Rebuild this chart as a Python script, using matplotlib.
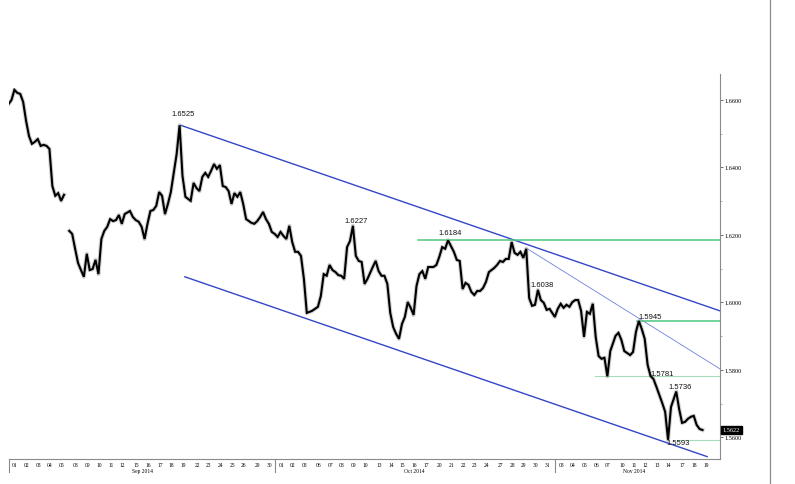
import datetime as dt
import numpy as np
import matplotlib.pyplot as plt
import matplotlib.transforms as mtransforms
from matplotlib.lines import Line2D

# ============================================================
# DATA - GBP/USD, Sep to Nov 2014
# ============================================================

sep_days = [1, 2, 3, 4, 5, 8, 9, 10, 11, 12, 15, 16, 17, 18, 19, 22, 23, 24, 25, 26, 29, 30]
oct_days = [1, 2, 3, 6, 7, 8, 9, 10, 13, 14, 15, 16, 17, 20, 21, 22, 23, 24, 27, 28, 29, 30, 31]
nov_days = [3, 4, 5, 6, 7, 10, 11, 12, 13, 14, 17, 18, 19]

# four readings per trading day (Nov 19 only has two)
sep_px = [1.6588, 1.6600, 1.6630, 1.6621,  1.6618, 1.6594, 1.6538, 1.6493,
          1.6470, 1.6476, 1.6484, 1.6464,  1.6467, 1.6464, 1.6455, 1.6345,
          1.6316, 1.6324, 1.6301, 1.6319,  1.6212, 1.6203, 1.6159, 1.6117,
          1.6096, 1.6076, 1.6144, 1.6096,  1.6099, 1.6126, 1.6084, 1.6188,
          1.6212, 1.6224, 1.6247, 1.6241,  1.6244, 1.6259, 1.6233, 1.6262,
          1.6271, 1.6253, 1.6244, 1.6239,  1.6224, 1.6188, 1.6233, 1.6271,
          1.6274, 1.6286, 1.6327, 1.6316,  1.6262, 1.6292, 1.6327, 1.6384,
          1.6440, 1.6525, 1.6375, 1.6313,  1.6301, 1.6354, 1.6339, 1.6330,
          1.6372, 1.6384, 1.6372, 1.6390,  1.6410, 1.6396, 1.6407, 1.6345,
          1.6342, 1.6330, 1.6292, 1.6324,  1.6313, 1.6327, 1.6292, 1.6247,
          1.6236, 1.6233, 1.6241, 1.6253,  1.6268, 1.6247, 1.6233, 1.6209]

oct_px = [1.6203, 1.6194, 1.6209, 1.6197,  1.6188, 1.6227, 1.6179, 1.6150,
          1.6150, 1.6138, 1.6070, 1.5969,  1.5975, 1.5981, 1.5987, 1.6019,
          1.6084, 1.6079, 1.6111, 1.6096,  1.6090, 1.6081, 1.6079, 1.6070,
          1.6164, 1.6182, 1.6227, 1.6138,  1.6123, 1.6120, 1.6055, 1.6070,
          1.6105, 1.6123, 1.6093, 1.6079,  1.6079, 1.6055, 1.5969, 1.5927,
          1.5907, 1.5892, 1.5936, 1.5957,  1.6001, 1.5984, 1.5963, 1.6049,
          1.6084, 1.6093, 1.6070, 1.6105,  1.6105, 1.6111, 1.6135, 1.6164,
          1.6159, 1.6184, 1.6167, 1.6150,  1.6126, 1.6123, 1.6040, 1.6058,
          1.6052, 1.6031, 1.6022, 1.6034,  1.6034, 1.6043, 1.6061, 1.6090,
          1.6102, 1.6111, 1.6123, 1.6120,  1.6129, 1.6129, 1.6179, 1.6147,
          1.6141, 1.6150, 1.6132, 1.6159,  1.6013, 1.5990, 1.5993, 1.6037,
          1.6007, 1.5999, 1.5978, 1.5981]

nov_px = [1.5957, 1.5981, 1.5996, 1.5984,  1.5993, 1.5987, 1.6001, 1.6007,
          1.6007, 1.5975, 1.5898, 1.5972,  1.5966, 1.5996, 1.5898, 1.5841,
          1.5833, 1.5836, 1.5781, 1.5856,  1.5901, 1.5910, 1.5889, 1.5856,
          1.5850, 1.5844, 1.5853, 1.5913,  1.5945, 1.5921, 1.5892, 1.5815,
          1.5782, 1.5773, 1.5750, 1.5726,  1.5702, 1.5676, 1.5593, 1.5690,
          1.5736, 1.5684, 1.5643, 1.5646,  1.5655, 1.5661, 1.5664, 1.5637,
          1.5625, 1.5622]

last_price = 1.5622

# channel / trend lines: start day, start price, end price (end = right edge)
upper_channel = ("2014-09-19", 1.6525, 1.5975)
inner_trend   = ("2014-10-29", 1.6159, 1.5803)
# lower channel: start day, start price, end day, end price
lower_channel = ("2014-09-19", 1.6076, "2014-11-19", 1.5543)

# horizontal levels and the day they start from
levels       = [1.6184, 1.5945, 1.5781, 1.5593]
level_starts = ["2014-10-16", "2014-11-11", "2014-11-06", "2014-11-14"]

# price labels: text, day
label_vals = ["1.6525", "1.6227", "1.6184", "1.6038", "1.5945", "1.5781", "1.5736", "1.5593"]
label_days = ["2014-09-19", "2014-10-09", "2014-10-21", "2014-10-31",
              "2014-11-12", "2014-11-13", "2014-11-17", "2014-11-14"]

y_ticks = [1.56, 1.58, 1.60, 1.62, 1.64, 1.66]

# ============================================================
# X POSITIONS (trading days, small gap at weekends)
# ============================================================

dates = ([dt.date(2014, 9, d) for d in sep_days] +
         [dt.date(2014, 10, d) for d in oct_days] +
         [dt.date(2014, 11, d) for d in nov_days])

WEEKEND_GAP = 0.2
pos = [0.0]
for i in range(1, len(dates)):
    step = 1.0 if (dates[i] - dates[i - 1]).days == 1 else 1.0 + WEEKEND_GAP
    pos.append(pos[-1] + step)
pos = np.array(pos)
day_pos = {d.isoformat(): p for d, p in zip(dates, pos)}

prices = np.array(sep_px + oct_px + nov_px)
xs = np.array([pos[i // 4] - 0.55 + (i % 4) * 0.25 for i in range(len(prices))])

# only a real weekend price gap leaves a hole in the trace
GAP_MIN = 0.005
px_x, px_y = [], []
for i in range(len(prices)):
    d = i // 4
    if (i > 0 and i % 4 == 0 and (dates[d] - dates[d - 1]).days > 1
            and abs(prices[i] - prices[i - 1]) > GAP_MIN):
        px_x.append(np.nan)
        px_y.append(np.nan)
    px_x.append(xs[i])
    px_y.append(prices[i])

x_left, x_right = -0.514, 60.40
y_bot, y_top = 1.5536, 1.6677

# ============================================================
# PLOT
# ============================================================

fig = plt.figure(figsize=(7.95, 4.85), dpi=100)
ax = fig.add_axes([9 / 795, 1 - 460 / 485, 711 / 795, 385 / 485])

# price trace
ax.plot(px_x, px_y, color='#9a9a9a', linewidth=3.0, alpha=0.45, zorder=3)
ax.plot(px_x, px_y, color='black', linewidth=1.5, zorder=4, solid_joinstyle='miter')

blue = '#3346c8'
d0, p0, p1 = upper_channel
ax.plot([day_pos[d0] - 0.2, x_right], [p0, p1], color=blue, linewidth=1.0, zorder=2)
d0, p0, p1 = inner_trend
ax.plot([day_pos[d0] + 0.3, x_right], [p0, p1], color='#7080dc', linewidth=0.6, zorder=2)
d0, p0, d1, p1 = lower_channel
ax.plot([day_pos[d0] + 0.15, day_pos[d1] + 0.1], [p0, p1], color=blue, linewidth=1.0, zorder=2)

level_offsets = [0.3, 0.3, -0.1, 0.7]
level_colors = ['#4cc67e', '#4cc67e', '#a6dcb8', '#a6dcb8']
level_widths = [1.1, 1.1, 0.8, 0.8]
for lv, ds, off, c, lw in zip(levels, level_starts, level_offsets, level_colors, level_widths):
    ax.plot([day_pos[ds] + off, x_right], [lv, lv], color=c, linewidth=lw, zorder=2)

# price labels (offsets in points)
label_offsets = [(0, 8.5), (1.8, 3.6), (-1, 5.3), (-3.7, 3.4),
                 (3.4, 2.9), (3.6, 2.2), (-1.9, 3.6), (6.8, -2.2)]
for txt, ds, off in zip(label_vals, label_days, label_offsets):
    ax.annotate(txt, xy=(day_pos[ds], float(txt)), xytext=off,
                textcoords='offset points', ha='center', va='center',
                fontsize=5.5, family='Liberation Sans', color='#111111', zorder=6)

ax.set_xlim(x_left, x_right)
ax.set_ylim(y_bot, y_top)

# axes styling
for side in ['top', 'left']:
    ax.spines[side].set_visible(False)
for side in ['bottom', 'right']:
    ax.spines[side].set_color('#8a8a8a')
    ax.spines[side].set_linewidth(0.8)

ax.yaxis.tick_right()
ax.set_yticks(y_ticks)
ax.set_yticklabels([f'{v:.4f}' for v in y_ticks], family='Liberation Serif', fontsize=4.5)
ax.set_yticks([v + 0.01 for v in y_ticks[:-1]], minor=True)
ax.tick_params(axis='y', which='major', length=2.5, width=0.6, color='#555555', pad=1)
ax.tick_params(axis='y', which='minor', length=1.5, width=0.5, color='#888888')

ax.set_xticks(pos)
ax.set_xticklabels([f'{d.day:02d}' for d in dates], family='Liberation Serif', fontsize=4)
ax.tick_params(axis='x', length=0, pad=2)

# month names and separators under the axis
trans = mtransforms.blended_transform_factory(ax.transData, ax.transAxes)
months = [('Sep 2014', 9), ('Oct 2014', 10), ('Nov 2014', 11)]
for name, m in months:
    mp = [p for d, p in zip(dates, pos) if d.month == m]
    ax.text((mp[0] + mp[-1]) / 2, -0.024, name, transform=trans, ha='center', va='top',
            family='Liberation Serif', fontsize=4)
    ax.plot([mp[0] - 0.5, mp[0] - 0.5], [0, -0.034], transform=trans,
            color='#8a8a8a', linewidth=0.8, clip_on=False)

# last price tag
ax.annotate(f'{last_price:.4f}', xy=(1.0, last_price), xycoords=('axes fraction', 'data'),
            xytext=(2, 0), textcoords='offset points', ha='left', va='center',
            fontsize=4.5, family='Liberation Serif', color='white',
            bbox=dict(boxstyle='square,pad=0.25', fc='black', ec='black'))

# page border on the right
fig.add_artist(Line2D([770 / 795, 770 / 795], [0, 1], color='#8a8a8a', linewidth=0.9))

plt.savefig('out.png', dpi=100)
